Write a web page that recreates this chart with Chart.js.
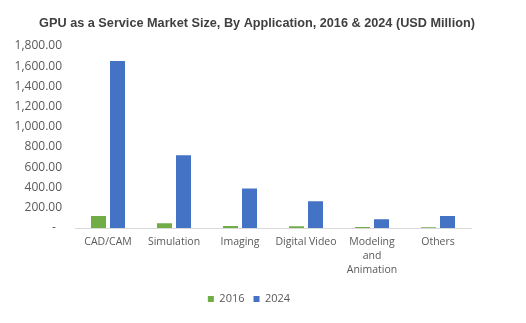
<!DOCTYPE html>
<html><head><meta charset="utf-8">
<script src="https://cdn.jsdelivr.net/npm/chart.js@4/dist/chart.umd.min.js"></script>
<style>html,body{margin:0;padding:0;background:#fff}#wrap{width:526px;height:323px}</style>
</head><body><div id="wrap"><canvas id="c" width="526" height="323"></canvas></div>
<script>
const categories = ["CAD/CAM", "Simulation", "Imaging", "Digital Video", ["Modeling", "and", "Animation"], "Others"];
const values2016 = [118, 46, 20, 18, 9, 8];
const values2024 = [1650, 720, 390, 265, 86, 118];
const seriesNames = ["2016", "2024"];
const yTicks = [0, 200, 400, 600, 800, 1000, 1200, 1400, 1600, 1800];

const FONT = "'Open Sans', 'Noto Sans', sans-serif";
const shiftLegend = {
  id: 'shiftLegend',
  afterLayout(chart) {
    if (chart.legend) { chart.legend.left -= 8; chart.legend.right -= 8; }
  }
};
new Chart(document.getElementById('c'), {
  type: 'bar',
  data: {
    labels: categories,
    datasets: [
      { label: seriesNames[0], data: values2016, backgroundColor: '#70AD47', categoryPercentage: 0.576, barPercentage: 0.79 },
      { label: seriesNames[1], data: values2024, backgroundColor: '#4472C4', categoryPercentage: 0.576, barPercentage: 0.79 }
    ]
  },
  plugins: [shiftLegend],
  options: {
    responsive: false,
    animation: false,
    devicePixelRatio: 1,
    layout: { padding: { left: 8, right: 20, top: 0, bottom: 8.5 } },
    plugins: {
      title: {
        display: true,
        text: 'GPU as a Service Market Size, By Application, 2016 & 2024 (USD Million)',
        color: '#404040',
        font: { family: "'Liberation Sans', Arial, sans-serif", size: 12.7, weight: 'bold', lineHeight: 1.2 },
        padding: { top: 15.6, bottom: 15 }
      },
      legend: {
        position: 'bottom',
        labels: { boxWidth: 6, boxHeight: 6, color: '#595959', font: { family: FONT, size: 11 }, padding: 9 }
      },
      tooltip: { enabled: false }
    },
    scales: {
      x: {
        grid: { display: false, drawTicks: false },
        border: { display: true, color: '#d9d9d9' },
        ticks: { color: '#595959', font: { family: FONT, size: 10.5, lineHeight: 1.35 }, maxRotation: 0, autoSkip: false, padding: 7 },
        afterFit: (s) => { s.height = 56.5; }
      },
      y: {
        min: 0, max: 1800,
        afterBuildTicks: (ax) => { ax.ticks = yTicks.map(v => ({ value: v })); },
        grid: { display: false, drawTicks: false },
        border: { display: false },
        ticks: {
          color: '#595959', font: { family: FONT, size: 12 }, padding: 13,
          callback: (v) => v === 0 ? '-  ' : Number(v).toLocaleString('en-US', { minimumFractionDigits: 2, maximumFractionDigits: 2 })
        },
        afterFit: (s) => { s.width = 67; }
      },
      yR: {
        position: 'right',
        display: true,
        grid: { display: false, drawTicks: false },
        border: { display: false },
        ticks: { display: false },
        afterFit: (s) => { s.width = 35; }
      }
    }
  }
});
</script></body></html>
